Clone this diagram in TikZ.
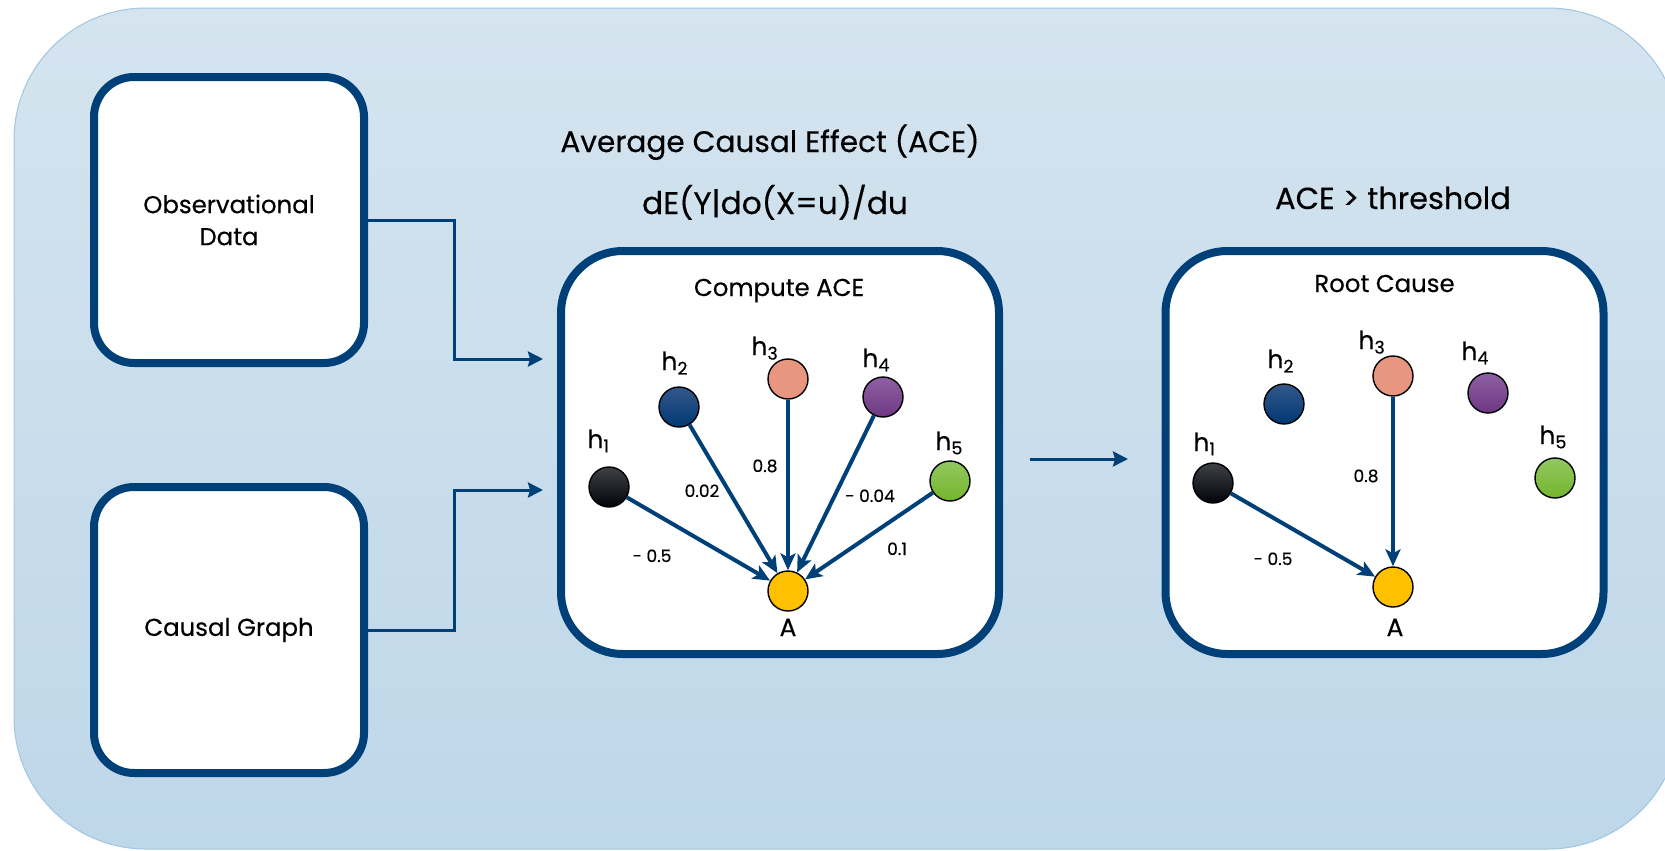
\documentclass[tikz,border=0pt]{standalone}
\usepackage{fontspec}
\setmainfont{Poppins}[FakeBold=0.35]
\usetikzlibrary{arrows.meta}

\definecolor{navy}{RGB}{0,64,120}
\definecolor{bgtop}{RGB}{213,228,239}
\definecolor{bgbot}{RGB}{190,215,233}
\definecolor{bgline}{RGB}{160,198,224}
\definecolor{hatop}{RGB}{62,64,68}
\definecolor{habot}{RGB}{0,4,10}
\definecolor{hbtop}{RGB}{52,88,138}
\definecolor{hbbot}{RGB}{0,56,116}
\definecolor{hc}{RGB}{232,150,128}
\definecolor{hdtop}{RGB}{142,96,162}
\definecolor{hdbot}{RGB}{110,56,130}
\definecolor{hetop}{RGB}{146,200,96}
\definecolor{hebot}{RGB}{116,182,44}
\definecolor{ha}{RGB}{255,192,0}

\begin{document}
\begin{tikzpicture}[x=0.5pt,y=-0.5pt,
    panel/.style={draw=navy,line width=4pt,fill=white,rounded corners=20pt,inner sep=0pt,
      font=\fontsize{12.2}{16}\selectfont},
    bigpanel/.style={panel,rounded corners=31pt,minimum width=219pt,minimum height=201.5pt},
    hnode/.style={circle,draw=black,line width=0.7pt,minimum size=20pt,inner sep=0pt},
    c1/.style={top color=hatop,bottom color=habot},
    c2/.style={top color=hbtop,bottom color=hbbot},
    c3/.style={fill=hc},
    c4/.style={top color=hdtop,bottom color=hdbot},
    c5/.style={top color=hetop,bottom color=hebot},
    cA/.style={fill=ha},
    lbl/.style={font=\fontsize{12.5}{14}\selectfont,anchor=base west,inner sep=0pt},
    wt/.style={font=\fontsize{8.5}{10}\selectfont,anchor=base,inner sep=0pt},
    ttl/.style={font=\fontsize{14.8}{17}\selectfont,anchor=base,inner sep=0pt},
    infl/.style={navy,line width=2pt,-{Stealth[length=8.5pt,width=7.5pt,inset=2pt]}},
    feed/.style={navy,line width=1.5pt,-{Stealth[length=7.5pt,width=7.5pt,inset=1pt]}}]
    \useasboundingbox (0,0) rectangle (1665,851);
    \clip (0,0) rectangle (1665,851);
    % Background
    \draw[bgline,line width=0.5pt,top color=bgtop,bottom color=bgbot,rounded corners=66pt]
      (14,8) rectangle (1680,849);
    % Inputs
    \node[panel,minimum width=135pt,minimum height=143pt,align=center] (obs) at (229,220) {Observational\\Data};
    \node[panel,minimum width=135pt,minimum height=143pt] (cg) at (229,630) {Causal Graph};
    % Panels and titles
    \node[bigpanel] (ace) at (780,452.5) {};
    \node[bigpanel] (root) at (1384.5,452.5) {};
    \node[ttl] (t1) at (770,152) {Average Causal Effect (ACE)};
    \node[ttl,font=\fontsize{15.6}{17}\selectfont] (t2) at (775,214) {dE(Y|do(X=u)/du};
    \node[ttl,font=\fontsize{15.2}{17}\selectfont] (t3) at (1393,209) {ACE > threshold};
    \node[lbl,anchor=base,font=\fontsize{12.2}{14}\selectfont] (acet) at (779,296) {Compute ACE};
    \node[lbl,anchor=base,font=\fontsize{12.2}{14}\selectfont] (roott) at (1384.5,292) {Root Cause};
    % Connectors
    \coordinate (in1) at (543,359);
    \coordinate (in2) at (543,490);
    \coordinate (m1) at (1030,459);
    \coordinate (m2) at (1128,459);
    \draw[feed] (obs.east) -- ++(86,0) |- (in1);
    \draw[feed] (cg.east) -- ++(86,0) |- (in2);
    \draw[feed] (m1) -- (m2);
    % Compute ACE graph
    \node[hnode,c1] (a1) at (609,487) {};
    \node[hnode,c2] (a2) at (679,407) {};
    \node[hnode,c3] (a3) at (788,379) {};
    \node[hnode,c4] (a4) at (883,397) {};
    \node[hnode,c5] (a5) at (950,481) {};
    \node[hnode,cA] (aA) at (788,591) {};
    \node[lbl] (la1) at (587,448) {h\textsubscript{1}};
    \node[lbl] (la2) at (661,370) {h\textsubscript{2}};
    \node[lbl] (la3) at (751,355) {h\textsubscript{3}};
    \node[lbl] (la4) at (862,367) {h\textsubscript{4}};
    \node[lbl] (la5) at (935,450) {h\textsubscript{5}};
    \node[lbl,anchor=base] (laA) at (788,636) {A};
    \draw[infl] (a1) -- (aA);
    \draw[infl] (a2) -- (aA);
    \draw[infl] (a3) -- (aA);
    \draw[infl] (a4) -- (aA);
    \draw[infl] (a5) -- (aA);
    \node[wt] (wa1) at (652,562) {- 0.5};
    \node[wt] (wa2) at (702,497) {0.02};
    \node[wt] (wa3) at (765,472) {0.8};
    \node[wt] (wa4) at (870,502) {- 0.04};
    \node[wt] (wa5) at (897,555) {0.1};
    % Root cause graph
    \node[hnode,c1] (r1) at (1213,483) {};
    \node[hnode,c2] (r2) at (1284,404) {};
    \node[hnode,c3] (r3) at (1393,376) {};
    \node[hnode,c4] (r4) at (1488,393) {};
    \node[hnode,c5] (r5) at (1555,478) {};
    \node[hnode,cA] (rA) at (1393,587) {};
    \node[lbl] (lr1) at (1193,451) {h\textsubscript{1}};
    \node[lbl] (lr2) at (1267,368) {h\textsubscript{2}};
    \node[lbl] (lr3) at (1358,349) {h\textsubscript{3}};
    \node[lbl] (lr4) at (1461,360) {h\textsubscript{4}};
    \node[lbl] (lr5) at (1539,444) {h\textsubscript{5}};
    \node[lbl,anchor=base] (lrA) at (1395,636) {A};
    \draw[infl] (r1) -- (rA);
    \draw[infl] (r3) -- (rA);
    \node[wt] (wr1) at (1273,565) {- 0.5};
    \node[wt] (wr3) at (1366,482) {0.8};
\end{tikzpicture}
\end{document}
